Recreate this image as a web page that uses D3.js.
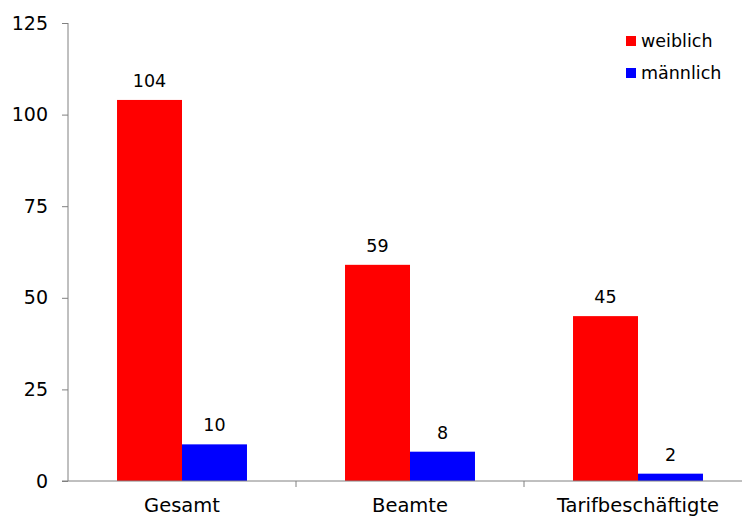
<!DOCTYPE html>
<html>
<head>
<meta charset="utf-8">
<script src="https://cdn.jsdelivr.net/npm/d3@7.9.0/dist/d3.min.js"></script>
<style>
  html, body { margin: 0; padding: 0; background: #fff; }
  svg { display: block; font-family: Verdana, "DejaVu Sans", sans-serif; }
</style>
</head>
<body>
<svg id="chart" width="742" height="517"></svg>
<script>
// data
const categories = ['Gesamt', 'Beamte', 'Tarifbeschäftigte'];
const series = ['weiblich', 'männlich'];
const weiblich = [104, 59, 45];
const maennlich = [10, 8, 2];
const yTicks = [0, 25, 50, 75, 100, 125];
const colors = ['#ff0000', '#0000ff'];

const svg = d3.select('#chart');
const axisColor = '#808080';

const x0 = d3.scaleBand().domain(categories).range([68, 752]).padding(0);
const bw = x0.bandwidth();
const x1 = d3.scaleBand().domain(series).range([bw * 0.215, bw * 0.785]).padding(0);
const y = d3.scaleLinear().domain([0, 125]).range([481, 23]);

const rows = categories.map((c, i) => ({ cat: c, values: [weiblich[i], maennlich[i]] }));

// bars
const groups = svg.selectAll('g.cat')
  .data(rows)
  .join('g')
  .attr('class', 'cat')
  .attr('transform', d => `translate(${x0(d.cat)},0)`);

groups.selectAll('rect')
  .data(d => d.values.map((v, k) => ({ s: series[k], v, k })))
  .join('rect')
  .attr('x', d => x1(d.s))
  .attr('width', x1.bandwidth())
  .attr('y', d => y(d.v))
  .attr('height', d => y(0) - y(d.v))
  .attr('fill', d => colors[d.k]);

groups.selectAll('text.val')
  .data(d => d.values.map((v, k) => ({ s: series[k], v, k })))
  .join('text')
  .attr('class', 'val')
  .attr('x', d => x1(d.s) + x1.bandwidth() / 2)
  .attr('y', d => y(d.v) - 13)
  .attr('text-anchor', 'middle')
  .attr('font-size', 17.5)
  .attr('fill', '#000')
  .text(d => d.v);

// y axis
const yAxis = svg.append('g')
  .attr('transform', 'translate(68,0)')
  .call(d3.axisLeft(y).tickValues(yTicks).tickSize(6).tickPadding(14));
yAxis.selectAll('line, path').attr('stroke', axisColor);
yAxis.select('.domain').attr('d', `M0,${y(125)}V${y(0)}`);
yAxis.selectAll('text').attr('font-size', 19).attr('fill', '#000')
  .attr('font-family', 'Verdana, "DejaVu Sans", sans-serif');

// x axis with ticks at the category boundaries
const xAxis = svg.append('g').attr('transform', `translate(0,${y(0)})`);
xAxis.append('line')
  .attr('x1', 62).attr('x2', 742)
  .attr('stroke', axisColor);
xAxis.selectAll('line.tick')
  .data(categories.slice(1))
  .join('line')
  .attr('class', 'tick')
  .attr('x1', d => x0(d)).attr('x2', d => x0(d))
  .attr('y1', 0).attr('y2', 6)
  .attr('stroke', axisColor);
xAxis.selectAll('text')
  .data(categories)
  .join('text')
  .attr('x', d => x0(d) + bw / 2)
  .attr('y', 31)
  .attr('text-anchor', 'middle')
  .attr('font-size', 19.5)
  .attr('fill', '#000')
  .text(d => d);

// legend
const legend = svg.append('g').attr('transform', 'translate(626,36)');
const li = legend.selectAll('g')
  .data(series)
  .join('g')
  .attr('transform', (d, i) => `translate(0,${i * 32})`);
li.append('rect').attr('width', 10).attr('height', 10).attr('fill', (d, i) => colors[i]);
li.append('text').attr('x', 15).attr('y', 11).attr('font-size', 17.5).attr('fill', '#000').text(d => d);
</script>
</body>
</html>
